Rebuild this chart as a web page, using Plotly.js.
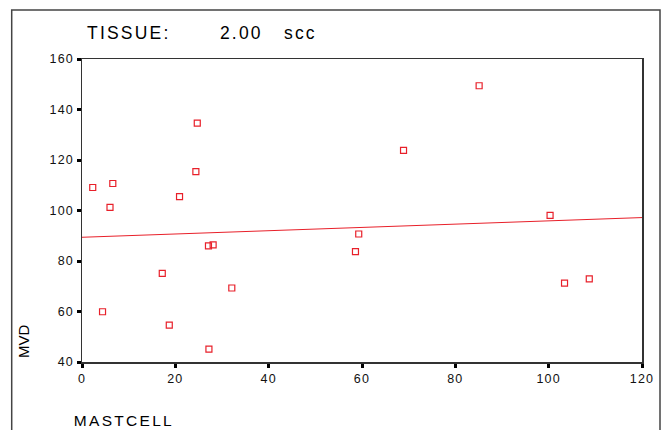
<!DOCTYPE html>
<html>
<head>
<meta charset="utf-8">
<script src="https://cdn.plot.ly/plotly-3.0.1.min.js"></script>
<style>
  html, body { margin: 0; padding: 0; background: #fff; }
  #chart { width: 664px; height: 430px; }
  .gtitle { letter-spacing: 2.2px; }
  .xtick text, .ytick text { letter-spacing: 1.2px; }
  .annotation[data-index="1"] text { letter-spacing: 2.3px; }
</style>
</head>
<body>
<div id="chart"></div>
<script>
// Data
const mastcell = [24.7, 24.4, 2.3, 6.6, 20.9, 6.0, 27.1, 28.1, 17.2, 32.1, 4.4, 18.7, 27.2, 59.3, 58.6, 85.1, 68.9, 100.3, 103.4, 108.7];
const mvd      = [134.6, 115.4, 109.1, 110.7, 105.5, 101.2, 86.0, 86.4, 75.1, 69.3, 59.9, 54.6, 45.1, 90.7, 83.7, 149.4, 123.8, 98.1, 71.2, 72.9];
const fitX = [0, 120];
const fitY = [89.4, 97.2];
const xTicks = [0, 20, 40, 60, 80, 100, 120];
const yTicks = [40, 60, 80, 100, 120, 140, 160];
const titleText = "TISSUE:\u00A0\u00A0\u00A0\u00A0\u00A0\u00A0 2.00\u00A0\u00A0 scc";
const xLabel = "MASTCELL";
const yLabel = "MVD";

const red = "#e8202a";
const font = "Arial, 'Liberation Sans', sans-serif";

const traces = [
  {
    x: fitX, y: fitY, type: "scatter", mode: "lines",
    line: { color: red, width: 1 }, hoverinfo: "skip", showlegend: false
  },
  {
    x: mastcell, y: mvd, type: "scatter", mode: "markers",
    marker: { symbol: "square-open", size: 6, color: red, line: { color: red, width: 1.2 } },
    showlegend: false
  }
];

const axisCommon = {
  showgrid: false, zeroline: false,
  showline: true, mirror: true, linecolor: "#333", linewidth: 1.5,
  ticks: "outside", ticklen: 4, tickwidth: 3, tickcolor: "#000",
  tickfont: { family: font, size: 12.5, color: "#111" },
  tickmode: "array", fixedrange: true
};

const layout = {
  width: 664, height: 430,
  margin: { l: 82, r: 22, t: 59, b: 68, pad: 0 },
  paper_bgcolor: "#fff", plot_bgcolor: "#fff",
  title: {
    text: titleText,
    font: { family: font, size: 17.5, color: "#000" },
    xref: "container", yref: "container",
    x: 87 / 664, xanchor: "left",
    y: 1 - 33 / 430, yanchor: "middle"
  },
  xaxis: Object.assign({}, axisCommon, {
    range: [0, 120], tickvals: xTicks, ticktext: xTicks.map(String)
  }),
  yaxis: Object.assign({}, axisCommon, {
    range: [40, 160], tickvals: yTicks, ticktext: yTicks.map(String)
  }),
  annotations: [
    {
      text: yLabel, xref: "paper", yref: "paper",
      x: (23 - 82) / 560, y: (362 - 341) / 303,
      xanchor: "center", yanchor: "middle", textangle: -90,
      showarrow: false, font: { family: font, size: 15, color: "#000" }
    },
    {
      text: xLabel, xref: "paper", yref: "paper",
      x: (81 - 82) / 560, y: (362 - 420) / 303,
      xanchor: "left", yanchor: "middle",
      showarrow: false, font: { family: font, size: 15.5, color: "#000" }
    }
  ],
  shapes: [
    {
      type: "rect", xref: "paper", yref: "paper", layer: "below",
      x0: (11.7 - 82) / 560, x1: (660 - 82) / 560,
      y0: (362 - 435) / 303, y1: (362 - 10) / 303,
      line: { color: "#444", width: 1.5 }, fillcolor: "rgba(0,0,0,0)"
    }
  ]
};

Plotly.newPlot("chart", traces, layout, { displayModeBar: false, staticPlot: true });
</script>
</body>
</html>
